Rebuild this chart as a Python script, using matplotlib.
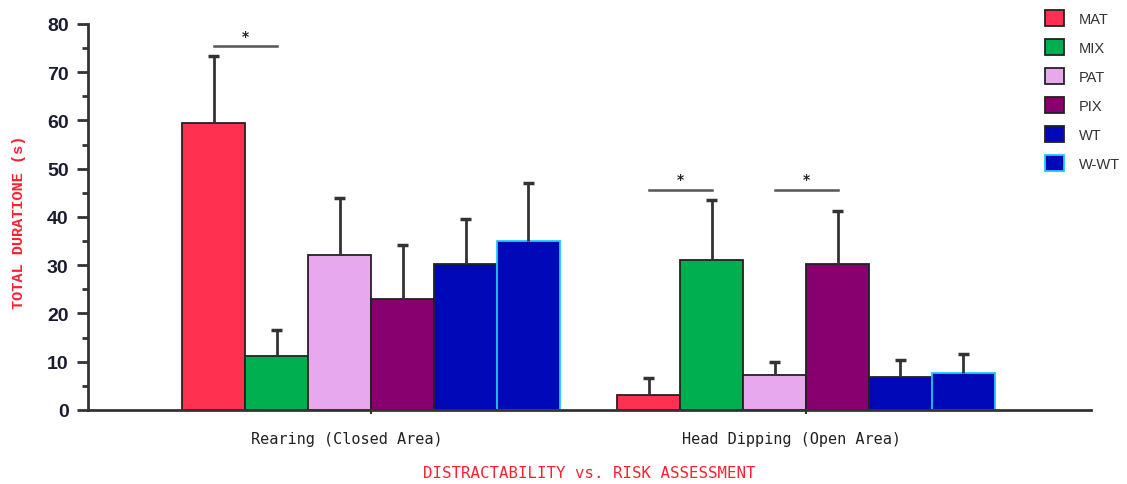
import matplotlib
matplotlib.use("Agg")
import matplotlib.pyplot as plt
import matplotlib.transforms as mtransforms
import numpy as np

# ---- data ----
categories = ["Rearing (Closed Area)", "Head Dipping (Open Area)"]
series = ["MAT", "MIX", "PAT", "PIX", "WT", "W-WT"]
means = {
    "MAT":  [59.5, 3.1],
    "MIX":  [11.2, 31.1],
    "PAT":  [32.2, 7.3],
    "PIX":  [22.9, 30.3],
    "WT":   [30.3, 6.8],
    "W-WT": [35.1, 7.7],
}
errors = {
    "MAT":  [13.8, 3.5],
    "MIX":  [5.4, 12.5],
    "PAT":  [11.7, 2.6],
    "PIX":  [11.2, 10.9],
    "WT":   [9.2, 3.6],
    "W-WT": [11.9, 3.8],
}
# significance brackets: (category index, series a, series b, line level)
sig_pairs = [(0, "MAT", "MIX", 75.4), (1, "MAT", "MIX", 45.6), (1, "PAT", "PIX", 45.6)]

colors = {"MAT": "#FF3050", "MIX": "#00B050", "PAT": "#E8A8EE",
          "PIX": "#880070", "WT": "#0008B8", "W-WT": "#0008B8"}
edges = {"MAT": "#222222", "MIX": "#222222", "PAT": "#222222",
         "PIX": "#222222", "WT": "#222222", "W-WT": "#20C8FF"}

fig = plt.figure(figsize=(11.27, 4.85), dpi=100)
ax = fig.add_axes([0.0781, 0.1526, 0.8899, 0.7959])

x = np.arange(len(categories))
w = 0.1448
n = len(series)
offsets = {s: (i - (n - 1) / 2) * w for i, s in enumerate(series)}

handles = []
for s in series:
    xs = x + offsets[s]
    b = ax.bar(xs, means[s], width=w, color=colors[s], edgecolor=edges[s],
               linewidth=1.3, label=s, zorder=2)
    handles.append(b)
    tops = np.array(means[s]) + np.array(errors[s])
    ax.vlines(xs, means[s], tops, color="#333333", linewidth=2, zorder=3)
    ax.hlines(tops, xs - 0.013, xs + 0.013, color="#333333", linewidth=2.5, zorder=3)

for ci, a, b_, lvl in sig_pairs:
    xa = x[ci] + offsets[a]
    xb = x[ci] + offsets[b_]
    ax.plot([xa, xb], [lvl, lvl], color="#555555", linewidth=1.8, zorder=3)
    ax.text((xa + xb) / 2, lvl + 2.2, "*", ha="center", va="center",
            fontsize=10, fontweight="bold", color="#222222")

ax.set_xlim(-0.6506, 1.655)
ax.set_ylim(0, 80)
ax.spines["top"].set_visible(False)
ax.spines["right"].set_visible(False)
for sp in ["left", "bottom"]:
    ax.spines[sp].set_linewidth(2)
    ax.spines[sp].set_color("#333333")

ax.set_yticks(np.arange(0, 81, 10))
ax.set_yticks(np.arange(5, 80, 10), minor=True)
ax.tick_params(axis="y", which="major", length=8, width=2, color="#333333",
               labelsize=14, pad=6)
ax.tick_params(axis="y", which="minor", length=4, width=2, color="#333333")
for lab in ax.get_yticklabels():
    lab.set_fontweight("bold")
    lab.set_fontfamily("Liberation Sans")
    lab.set_color("#1c1c30")

ax.set_xticks(x)
ax.set_xticklabels(categories, fontfamily="DejaVu Sans Mono", fontsize=11,
                   color="#222222")
ax.tick_params(axis="x", length=3, width=1.5, color="#333333", pad=12)
for lab, dx in zip(ax.get_xticklabels(), [-24, -15]):
    lab.set_transform(lab.get_transform() +
                      mtransforms.ScaledTranslation(dx / 100, 0, fig.dpi_scale_trans))

ax.set_ylabel("TOTAL DURATIONE (s)", color="#FF2030", fontsize=11,
              fontfamily="Liberation Mono", fontweight="bold")
ax.yaxis.set_label_coords(-0.062, 0.49)
ax.set_xlabel("DISTRACTABILITY vs. RISK ASSESSMENT", color="#FF2030",
              fontsize=11.3, fontfamily="DejaVu Sans Mono", labelpad=14)

leg = fig.legend(handles=handles, labels=series, loc="upper left",
                 bbox_to_anchor=(0.916, 1.004), frameon=False,
                 prop={"family": "Liberation Sans", "size": 10.5},
                 handlelength=1.3, handleheight=1.3, handletextpad=1.0,
                 labelspacing=0.9, labelcolor="#333333")

fig.savefig("out.png", dpi=100)
